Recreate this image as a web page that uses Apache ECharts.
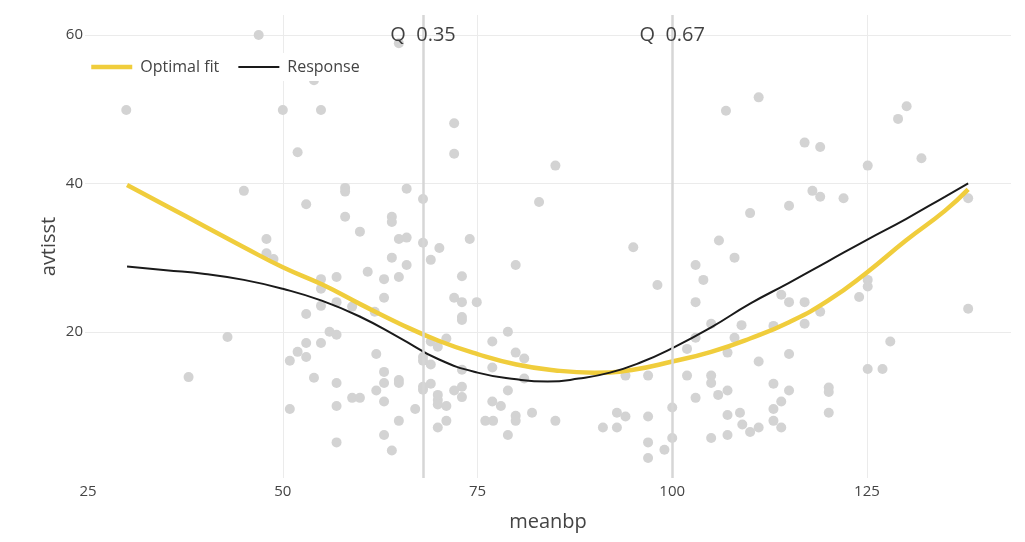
<!DOCTYPE html>
<html>
<head>
<meta charset="utf-8">
<script src="https://cdn.jsdelivr.net/npm/echarts@6/dist/echarts.min.js"></script>
<style>html,body{margin:0;padding:0;background:#fff}#c{width:1025px;height:542px}</style>
</head>
<body>
<div id="c"></div>
<script>
// scatter points (meanbp, avtisst)
var pointX = [46.9,64.9,29.9,50.0,54.9,54.0,72.0,72.0,51.9,45.0,58.0,58.0,65.9,68.0,53.0,58.0,64.0,64.0,59.9,64.9,65.9,68.0,70.1,74.0,47.9,47.9,48.8,64.0,69.0,65.9,60.9,54.9,56.9,63.0,64.9,73.0,54.9,63.0,54.9,56.9,58.9,61.8,53.0,72.0,73.0,73.0,73.0,74.9,56.0,56.9,53.0,51.9,53.0,50.9,54.9,54.0,50.9,56.9,56.9,56.9,58.9,59.9,62.0,63.0,63.0,62.0,63.0,64.9,64.9,64.9,63.0,64.0,67.0,68.0,68.0,69.0,68.0,68.0,69.0,69.9,69.9,69.9,71.0,71.0,69.9,69.0,69.9,71.0,72.0,73.0,73.0,73.0,76.9,76.9,76.9,76.0,77.0,78.0,78.9,78.9,78.9,79.9,81.0,81.0,79.9,79.9,82.0,85.0,98.1,104.0,103.0,105.0,103.0,101.9,107.1,94.0,96.9,101.9,105.0,105.0,105.9,107.1,103.0,100.0,92.9,94.0,96.9,91.1,92.9,100.0,96.9,99.0,96.9,105.0,107.1,107.1,108.7,109.0,110.0,111.1,108.9,108.0,114.0,115.0,117.0,119.0,113.0,117.0,115.0,111.1,113.0,115.0,120.1,120.1,114.0,113.0,113.0,114.0,120.1,124.0,125.1,125.1,138.0,128.0,125.1,127.0,106.9,85.0,82.9,95.0,79.9,106.0,108.0,103.0,111.1,129.0,130.1,117.0,119.0,132.0,125.1,118.0,119.0,122.0,115.0,110.0,138.0,37.9,42.9];
var pointY = [60.0,58.9,49.9,49.9,49.9,53.9,48.1,44.0,44.2,39.0,39.4,38.9,39.3,37.9,37.2,35.5,35.5,34.8,33.5,32.5,32.7,32.0,31.3,32.5,32.5,30.6,29.8,30.0,29.7,29.0,28.1,27.1,27.4,27.1,27.4,27.5,25.8,24.6,23.5,24.0,23.4,22.7,22.4,24.6,24.0,22.0,21.6,24.0,20.0,19.6,18.5,17.3,16.6,16.1,18.5,13.8,9.6,13.1,10.0,5.1,11.1,11.1,17.0,14.6,13.1,12.1,10.6,13.5,13.1,8.0,6.1,4.0,9.6,16.6,16.1,15.6,12.6,12.2,13.0,11.5,10.8,10.2,10.0,8.0,7.1,18.7,18.0,19.1,12.1,12.6,11.2,14.9,18.7,15.2,10.6,8.0,8.0,10.0,20.0,12.1,6.1,17.2,16.4,13.7,8.7,8.0,9.1,8.0,26.3,27.0,24.0,21.1,19.2,17.7,17.2,14.1,14.1,14.1,14.1,13.1,11.5,12.1,11.1,9.8,9.1,8.6,8.6,7.1,7.1,5.7,5.1,4.1,3.0,5.7,6.1,8.8,9.1,7.5,6.5,7.1,20.9,19.2,25.0,24.0,24.0,22.7,20.8,21.1,17.0,16.0,13.0,12.1,12.5,11.9,10.6,9.6,8.0,7.1,9.1,24.7,27.0,26.1,23.1,18.7,15.0,15.0,49.8,42.4,37.5,31.4,29.0,32.3,30.0,29.0,51.6,48.7,50.4,45.5,44.9,43.4,42.4,39.0,38.2,38.0,37.0,36.0,38.0,13.9,19.3];

// optimal fit curve
var fitX = [30,35,40,45,50,55,60,65,70,75,80,85,90,95,100,105,110,115,120,125,130,135,138];
var fitY = [39.8,37.0,34.2,31.4,28.7,26.4,23.7,21.1,18.8,17.0,15.6,14.8,14.5,14.9,16.0,17.3,19.1,21.3,24.2,28.0,32.3,36.3,39.2];

// response curve
var respX = [30,35,40,45,50,55,60,65,70,75,80,84,88,92,96,100,105,110,115,120,125,130,135,138];
var respY = [28.8,28.3,27.8,27.0,25.8,24.2,22.0,19.2,16.3,14.5,13.6,13.3,13.7,14.5,15.9,17.8,20.6,23.8,26.6,29.5,32.4,35.2,38.2,40.0];

// quantile lines
var qValues = [68, 100];
var qLabels = ['Q  0.35', 'Q  0.67'];

var xTicks = [25, 50, 75, 100, 125];
var xGrid = [50, 75, 100, 125];
var yTicks = [20, 40, 60];

function zip(a, b) { return a.map(function (v, i) { return [v, b[i]]; }); }

var FONT = 'Open Sans';
var YELLOW = '#f0cd3c', BLACK = '#1a1a1a';
var chart = echarts.init(document.getElementById('c'), null, { renderer: 'canvas' });
chart.setOption({
  backgroundColor: '#fff',
  animation: false,
  textStyle: { fontFamily: FONT },
  grid: { left: 85, right: 14, top: 15, bottom: 64, containLabel: false },
  legend: {
    data: [
      { name: 'Optimal fit', lineStyle: { width: 4.5, color: YELLOW } },
      { name: 'Response', lineStyle: { width: 2.2, color: BLACK } }
    ],
    left: 85, top: 53,
    itemWidth: 41, itemHeight: 14, itemGap: 18,
    itemStyle: { opacity: 0, borderWidth: 0 },
    backgroundColor: '#fff',
    padding: [6, 4, 6, 4],
    textStyle: { fontFamily: FONT, fontSize: 16, color: '#444', padding: [0, 0, 0, 3] }
  },
  xAxis: {
    type: 'value', min: 24.6, max: 143.5,
    name: 'meanbp', nameLocation: 'middle', nameGap: 34, nameMoveOverlap: false,
    nameTextStyle: { fontFamily: FONT, fontSize: 20, color: '#444' },
    axisLine: { show: false }, axisTick: { show: false, customValues: xGrid },
    axisLabel: { customValues: xTicks, fontFamily: FONT, fontSize: 15, color: '#444', margin: 6 },
    splitLine: { show: true, customValues: xGrid, lineStyle: { color: '#ebebeb', width: 1 } }
  },
  yAxis: {
    type: 'value', min: 0.3, max: 62.7,
    name: 'avtisst', nameLocation: 'middle', nameGap: 26, nameRotate: 90, nameMoveOverlap: false,
    nameTextStyle: { fontFamily: FONT, fontSize: 20, color: '#444' },
    axisLine: { show: false }, axisTick: { show: false, customValues: yTicks },
    axisLabel: { customValues: yTicks, fontFamily: FONT, fontSize: 15, color: '#444', margin: 2 },
    splitLine: { show: true, customValues: yTicks, lineStyle: { color: '#ebebeb', width: 1 } }
  },
  series: [
    {
      name: 'points', type: 'scatter', data: zip(pointX, pointY),
      symbolSize: 10, itemStyle: { color: '#d3d3d3', opacity: 1 }, z: 2,
      markLine: {
        silent: true, symbol: 'none', animation: false,
        label: { show: false },
        lineStyle: { color: '#d6d6d6', width: 2.5, type: 'solid' },
        data: qValues.map(function (v) { return { xAxis: v }; })
      }
    },
    {
      name: 'qlabels', type: 'scatter', symbolSize: 0, silent: true, z: 6,
      data: qValues.map(function (v, i) { return { value: [v, 60], name: qLabels[i] }; }),
      label: { show: true, position: 'inside', formatter: '{b}', fontFamily: FONT, fontSize: 20, color: '#111' }
    },
    {
      name: 'Optimal fit', type: 'line', data: zip(fitX, fitY), smooth: true,
      symbol: 'none', lineStyle: { color: YELLOW, width: 4.5 }, itemStyle: { color: YELLOW }, z: 3
    },
    {
      name: 'Response', type: 'line', data: zip(respX, respY), smooth: true,
      symbol: 'none', lineStyle: { color: BLACK, width: 2 }, itemStyle: { color: BLACK }, z: 4
    }
  ]
});
</script>
</body>
</html>
